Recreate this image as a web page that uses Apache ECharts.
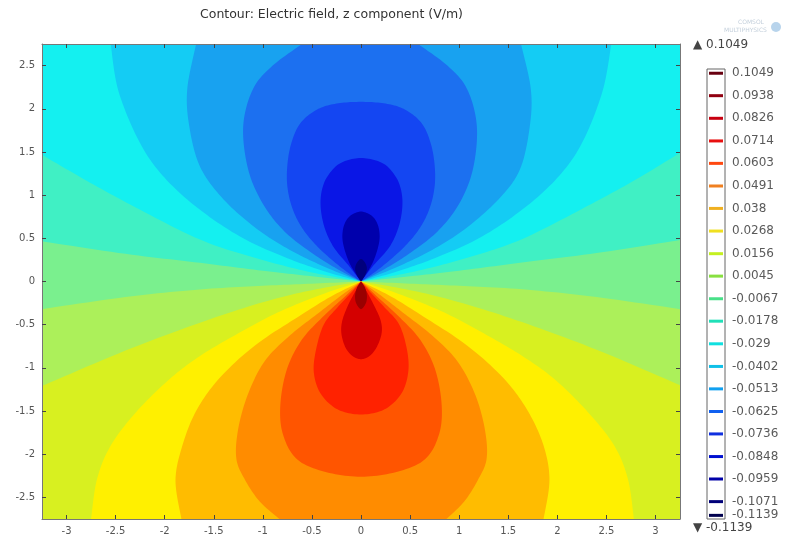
<!DOCTYPE html>
<html><head><meta charset="utf-8">
<script src="https://cdn.jsdelivr.net/npm/echarts@6/dist/echarts.min.js"></script>
<style>html,body{margin:0;background:#fff}#c{width:785px;height:540px}</style>
</head><body><div id="c"></div>
<script>
// ---- axis extents & ticks ----
const xMin = -3.25, xMax = 3.25, yMin = -2.75, yMax = 2.75;
const xTicks = [-3, -2.5, -2, -1.5, -1, -0.5, 0, 0.5, 1, 1.5, 2, 2.5, 3];
const yTicks = [-2.5, -2, -1.5, -1, -0.5, 0, 0.5, 1, 1.5, 2, 2.5];

// ---- contour levels (ascending) ----
const levels = [-0.1139, -0.1071, -0.0959, -0.0848, -0.0736, -0.0625, -0.0513, -0.0402, -0.029, -0.0178,
  -0.0067, 0.0045, 0.0156, 0.0268, 0.038, 0.0491, 0.0603, 0.0714, 0.0826, 0.0938, 0.1049];
const levelColors = ['#00004e', '#000078', '#0000a8', '#0010d0', '#1030e0', '#1060f0', '#10a0f0', '#10c0e8', '#10e0e0', '#20e0b8',
  '#48e088', '#88e040', '#c4f020', '#f0e020', '#f0b020', '#f08020', '#ff4810', '#e81010', '#c80010', '#900010', '#680010'];
// band k lies between levels[k] and levels[k+1]
const bandColors = ['#00004a', '#00007c', '#0000ac', '#0a16e6', '#1446f2', '#1c70f0', '#18a2f0', '#14ccf4', '#14f0f0', '#40f0c4',
  '#7af08e', '#acf05a', '#d8f020', '#fff000', '#ffbc00', '#ff8c00', '#ff5500', '#ff2200', '#d40000', '#9a0000'];

// ---- contour lines (x, y) ----
const c10 = [[-3.25,0.465],[-2.4,0.32],[-1.64,0.216],[-1.0,0.125],[-0.5,0.06],[0,0],[0.5,0.06],[1.0,0.125],[1.64,0.22],[2.4,0.33],[3.25,0.48]];
const c09 = [[-3.25,1.467],[-2.8,1.17],[-2.3,0.86],[-1.64,0.485],[-1.1,0.28],[-0.6,0.13],[-0.3,0.06],[0,0],[0.3,0.06],[0.6,0.13],[1.1,0.28],[1.64,0.49],[2.3,0.87],[2.8,1.18],[3.25,1.49]];
const c08 = [[-2.55,2.75],[-2.47,2.2],[-2.25,1.6],[-2.0,1.2],[-1.64,0.83],[-1.2,0.5],[-0.75,0.27],[-0.35,0.11],[0,0],[0.35,0.11],[0.75,0.27],[1.2,0.5],[1.64,0.83],[2.0,1.2],[2.25,1.6],[2.46,2.2],[2.55,2.75]];
const c07 = [[-1.68,2.75],[-1.77,2.23],[-1.75,1.8],[-1.64,1.33],[-1.4,0.95],[-1.05,0.6],[-0.7,0.35],[-0.35,0.16],[0,0],[0.35,0.16],[0.7,0.35],[1.05,0.6],[1.4,0.95],[1.62,1.3],[1.72,1.8],[1.73,2.23],[1.63,2.75]];
const c06 = [[-0.6,2.75],[-0.9,2.5],[-1.1,2.23],[-1.2,1.8],[-1.15,1.3],[-1.0,0.9],[-0.78,0.58],[-0.5,0.33],[-0.25,0.15],[0,0],[0.25,0.15],[0.5,0.33],[0.78,0.58],[1.0,0.9],[1.14,1.3],[1.18,1.8],[1.08,2.23],[0.88,2.5],[0.58,2.75]];
const c05 = [[0,0],[-0.2,0.16],[-0.44,0.4],[-0.6,0.62],[-0.7,0.85],[-0.75,1.1],[-0.75,1.35],[-0.71,1.6],[-0.62,1.83],[-0.45,1.99],[-0.25,2.06],[0,2.08],[0.25,2.06],[0.45,1.99],[0.62,1.83],[0.71,1.6],[0.75,1.35],[0.75,1.1],[0.7,0.85],[0.6,0.62],[0.44,0.4],[0.2,0.16]];
const c04 = [[0,0],[-0.13,0.19],[-0.28,0.4],[-0.37,0.62],[-0.41,0.85],[-0.4,1.05],[-0.34,1.22],[-0.21,1.37],[0,1.43],[0.22,1.37],[0.35,1.22],[0.41,1.05],[0.42,0.85],[0.38,0.62],[0.29,0.4],[0.13,0.19]];
const c03 = [[0,0],[-0.06,0.1],[-0.12,0.22],[-0.17,0.38],[-0.19,0.52],[-0.17,0.66],[-0.11,0.76],[0,0.81],[0.11,0.76],[0.17,0.66],[0.19,0.52],[0.17,0.38],[0.12,0.22],[0.06,0.1]];
const c02 = [[0,0],[-0.04,0.07],[-0.06,0.15],[-0.04,0.22],[0,0.26],[0.04,0.22],[0.06,0.15],[0.04,0.07]];
const c11 = [[-3.25,-0.32],[-2.4,-0.18],[-1.64,-0.092],[-1.0,-0.05],[-0.5,-0.025],[0,0],[0.5,-0.025],[1.0,-0.05],[1.64,-0.09],[2.4,-0.18],[3.25,-0.32]];
const c12 = [[-3.25,-1.21],[-2.4,-0.8],[-1.64,-0.477],[-1.0,-0.24],[-0.5,-0.1],[0,0],[0.5,-0.1],[1.0,-0.24],[1.64,-0.47],[2.4,-0.79],[3.25,-1.2]];
const c13 = [[-2.75,-2.75],[-2.69,-2.29],[-2.55,-1.9],[-2.29,-1.51],[-1.95,-1.13],[-1.64,-0.862],[-1.25,-0.6],[-0.85,-0.36],[-0.4,-0.15],[0,0],[0.4,-0.15],[0.85,-0.36],[1.25,-0.6],[1.64,-0.86],[1.97,-1.13],[2.31,-1.51],[2.58,-1.9],[2.72,-2.29],[2.78,-2.75]];
const c14 = [[-1.83,-2.75],[-1.89,-2.3],[-1.82,-1.9],[-1.68,-1.5],[-1.45,-1.13],[-1.08,-0.74],[-0.6,-0.38],[-0.3,-0.17],[0,0],[0.3,-0.17],[0.6,-0.38],[1.08,-0.74],[1.46,-1.13],[1.7,-1.5],[1.86,-1.9],[1.92,-2.3],[1.86,-2.75]];
const c15 = [[-0.83,-2.75],[-1.03,-2.55],[-1.18,-2.3],[-1.27,-2.05],[-1.25,-1.7],[-1.15,-1.3],[-0.98,-0.92],[-0.72,-0.62],[-0.45,-0.38],[-0.2,-0.16],[0,0],[0.2,-0.16],[0.45,-0.38],[0.72,-0.62],[0.98,-0.92],[1.16,-1.3],[1.26,-1.7],[1.28,-2.05],[1.19,-2.3],[1.05,-2.55],[0.87,-2.75]];
const c16 = [[0,0],[-0.16,-0.17],[-0.38,-0.4],[-0.6,-0.67],[-0.75,-1.0],[-0.82,-1.4],[-0.8,-1.75],[-0.66,-2.05],[-0.38,-2.2],[0,-2.26],[0.38,-2.2],[0.66,-2.05],[0.8,-1.75],[0.82,-1.4],[0.75,-1.0],[0.6,-0.67],[0.38,-0.4],[0.16,-0.17]];
const c17 = [[0,0],[-0.1,-0.13],[-0.24,-0.3],[-0.38,-0.5],[-0.46,-0.8],[-0.48,-1.06],[-0.41,-1.3],[-0.24,-1.48],[0,-1.54],[0.24,-1.48],[0.41,-1.3],[0.48,-1.06],[0.47,-0.8],[0.39,-0.5],[0.24,-0.3],[0.1,-0.13]];
const c18 = [[0,0],[-0.06,-0.12],[-0.13,-0.27],[-0.19,-0.45],[-0.2,-0.6],[-0.16,-0.76],[-0.09,-0.86],[0,-0.9],[0.09,-0.86],[0.16,-0.76],[0.21,-0.6],[0.2,-0.45],[0.13,-0.27],[0.06,-0.12]];
const c19 = [[0,0],[-0.04,-0.07],[-0.06,-0.16],[-0.05,-0.25],[0,-0.32],[0.05,-0.25],[0.06,-0.16],[0.04,-0.07]];

// region list: fill colour band, contour, how it closes against the frame
const regions = [
  {band: 9, pts: c10, close: 'top'}, {band: 8, pts: c09, close: 'top'}, {band: 7, pts: c08, close: 'top'},
  {band: 6, pts: c07, close: 'top'}, {band: 5, pts: c06, close: 'top'}, {band: 4, pts: c05, close: 'loop'},
  {band: 3, pts: c04, close: 'loop'}, {band: 2, pts: c03, close: 'loop'}, {band: 1, pts: c02, close: 'loop'},
  {band: 11, pts: c11, close: 'bottom'}, {band: 12, pts: c12, close: 'bottom'}, {band: 13, pts: c13, close: 'bottom'},
  {band: 14, pts: c14, close: 'bottom'}, {band: 15, pts: c15, close: 'bottom'}, {band: 16, pts: c16, close: 'loop'},
  {band: 17, pts: c17, close: 'loop'}, {band: 18, pts: c18, close: 'loop'}, {band: 19, pts: c19, close: 'loop'}
];

function spline(p) {
  const out = [p[0]];
  for (let i = 0; i < p.length - 1; i++) {
    const p0 = p[Math.max(i - 1, 0)], p1 = p[i], p2 = p[i + 1], p3 = p[Math.min(i + 2, p.length - 1)];
    const c1 = [p1[0] + (p2[0] - p0[0]) / 6, p1[1] + (p2[1] - p0[1]) / 6];
    const c2 = [p2[0] - (p3[0] - p1[0]) / 6, p2[1] - (p3[1] - p1[1]) / 6];
    for (let s = 1; s <= 12; s++) {
      const t = s / 12, u = 1 - t;
      out.push([u*u*u*p1[0] + 3*u*u*t*c1[0] + 3*u*t*t*c2[0] + t*t*t*p2[0],
                u*u*u*p1[1] + 3*u*u*t*c1[1] + 3*u*t*t*c2[1] + t*t*t*p2[1]]);
    }
  }
  return out;
}

const chart = echarts.init(document.getElementById('c'), null, {renderer: 'canvas'});
const axisFont = 'DejaVu Sans';

chart.setOption({
  animation: false,
  backgroundColor: '#fff',
  grid: [
    {left: 42, top: 44, width: 638, height: 475, show: true, backgroundColor: bandColors[10], borderWidth: 0},
    {left: 707, top: 69, width: 18, height: 450, show: true, backgroundColor: '#fff', borderColor: '#666', borderWidth: 1}
  ],
  xAxis: [
    {type: 'value', gridIndex: 0, min: xMin, max: xMax, position: 'bottom', z: 5,
     axisLine: {show: true, onZero: false, lineStyle: {color: '#777', width: 1}},
     axisTick: {show: true, inside: true, length: 4, customValues: xTicks, lineStyle: {color: '#444'}},
     axisLabel: {show: true, customValues: xTicks, fontSize: 10, color: '#555', margin: 7, fontFamily: axisFont},
     splitLine: {show: false}},
    {type: 'value', gridIndex: 0, min: xMin, max: xMax, position: 'top', z: 5,
     axisLine: {show: true, onZero: false, lineStyle: {color: '#777', width: 1}},
     axisTick: {show: true, inside: true, length: 4, customValues: xTicks, lineStyle: {color: '#444'}},
     axisLabel: {show: false}, splitLine: {show: false}},
    {type: 'value', gridIndex: 1, min: 0, max: 1, show: false}
  ],
  yAxis: [
    {type: 'value', gridIndex: 0, min: yMin, max: yMax, position: 'left', z: 5,
     axisLine: {show: true, onZero: false, lineStyle: {color: '#777', width: 1}},
     axisTick: {show: true, inside: true, length: 4, customValues: yTicks, lineStyle: {color: '#444'}},
     axisLabel: {show: true, customValues: yTicks, fontSize: 10, color: '#555', margin: 7, fontFamily: axisFont},
     splitLine: {show: false}},
    {type: 'value', gridIndex: 0, min: yMin, max: yMax, position: 'right', z: 5,
     axisLine: {show: true, onZero: false, lineStyle: {color: '#777', width: 1}},
     axisTick: {show: true, inside: true, length: 4, customValues: yTicks, lineStyle: {color: '#444'}},
     axisLabel: {show: false}, splitLine: {show: false}},
    {type: 'value', gridIndex: 1, min: -0.1157, max: 0.1070, show: false}
  ],
  series: [
    {
      type: 'custom', xAxisIndex: 0, yAxisIndex: 0, clip: true, z: 2,
      data: regions.map((r, i) => [i]),
      renderItem: function (params, api) {
        const r = regions[api.value(0)];
        const px = r.pts.map(p => api.coord(p));
        let pts;
        if (r.close === 'loop') {
          pts = spline(px.concat([px[0]]));
        } else {
          const o = r.pts.findIndex(p => p[0] === 0 && p[1] === 0);
          const left = spline(px.slice(0, o + 1));
          const right = spline(px.slice(o));
          pts = left.concat(right.slice(1));
          if (r.close === 'top') { pts.push(api.coord([xMax, yMax]), api.coord([xMin, yMax])); }
          else { pts.push(api.coord([xMax, yMin]), api.coord([xMin, yMin])); }
        }
        return {type: 'polygon', z2: api.value(0), shape: {points: pts}, style: {fill: bandColors[r.band], stroke: null}};
      }
    },
    {
      type: 'custom', xAxisIndex: 2, yAxisIndex: 2, z: 3,
      data: levels.map((v, i) => [v, i]),
      renderItem: function (params, api) {
        const v = api.value(0), i = api.value(1);
        const a = api.coord([0, v]), b = api.coord([1, v]);
        return {type: 'group', children: [
          {type: 'line', shape: {x1: a[0] + 2, y1: a[1], x2: b[0] - 2, y2: b[1]}, style: {stroke: levelColors[i], lineWidth: 3}},
          {type: 'text', x: b[0] + 7, y: a[1], style: {text: String(v), fill: '#5a5a5a', fontSize: 12, fontFamily: axisFont, verticalAlign: 'middle', align: 'left'}}
        ]};
      }
    }
  ],
  graphic: [
    {type: 'text', left: 200, top: 8, style: {text: 'Contour: Electric field, z component (V/m)', fill: '#333', fontSize: 12.5, fontFamily: axisFont}},
    {type: 'text', left: 693, top: 39, style: {text: '▲ ' + String(levels[levels.length - 1]), fill: '#444', fontSize: 12, fontFamily: axisFont}},
    {type: 'text', left: 693, top: 522, style: {text: '▼ ' + String(levels[0]), fill: '#444', fontSize: 12, fontFamily: axisFont}},
    {type: 'text', left: 738, top: 19, style: {text: 'COMSOL', fill: '#c4d0dc', fontSize: 6, fontFamily: axisFont}},
    {type: 'text', left: 724, top: 27, style: {text: 'MULTIPHYSICS', fill: '#c4d0dc', fontSize: 6, fontFamily: axisFont}},
    {type: 'circle', shape: {cx: 776, cy: 27, r: 5}, style: {fill: '#b8d4ec'}}
  ]
});
</script>
</body></html>
